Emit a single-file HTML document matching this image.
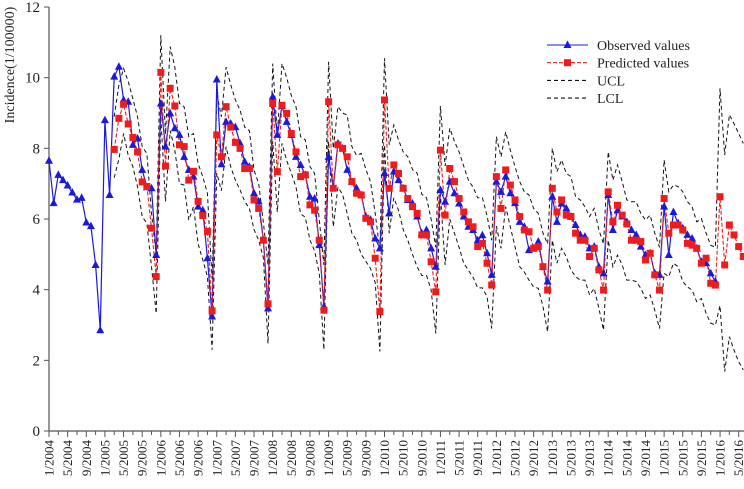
<!DOCTYPE html>
<html><head><meta charset="utf-8"><style>
body{margin:0;background:#fff}
svg{display:block;font-family:"Liberation Serif",serif}
</style></head><body>
<svg id="chart" width="744" height="489" viewBox="0 0 744 489"></svg>
<script>
const startYear = 2004;
const observed = [7.65,6.45,7.25,7.1,6.95,6.75,6.55,6.6,5.9,5.8,4.7,2.85,
8.8,6.68,10.03,10.31,9.37,9.32,8.1,8.28,7.39,6.9,6.87,4.98,
9.27,8.05,8.99,8.57,8.38,7.76,7.39,7.2,6.35,6.25,4.89,3.24,
9.95,7.55,8.75,8.7,8.6,8.14,7.62,7.48,6.73,6.5,5.4,3.47,
9.46,8.38,9.2,8.75,8.38,7.76,7.53,7.25,6.63,6.58,5.26,3.52,
7.76,6.9,8.14,8.0,7.39,7.06,6.87,6.68,6.07,5.98,5.45,5.17,
7.3,6.16,7.34,7.1,6.87,6.54,6.44,6.07,5.6,5.69,5.17,4.65,
6.82,6.49,7.06,6.73,6.44,6.07,5.78,5.69,5.4,5.54,5.03,4.42,
7.06,6.77,7.2,6.73,6.45,5.92,5.78,5.12,5.17,5.36,4.65,4.23,
6.63,5.92,6.44,6.3,6.07,5.83,5.55,5.5,5.17,5.22,4.65,4.46,
6.68,5.69,6.25,6.07,5.92,5.69,5.55,5.22,4.98,5.03,4.46,4.42,
6.35,4.98,6.2,5.88,5.74,5.55,5.45,5.17,4.79,4.75,4.46,4.23];
const predStart = 14;
const predicted = [7.97,8.85,9.25,8.69,8.31,7.9,7.05,6.92,5.74,4.37,
10.15,7.5,9.7,9.2,8.1,8.05,7.1,7.35,6.5,6.1,5.65,3.4,
8.38,7.76,9.18,8.6,8.17,8.0,7.43,7.43,6.54,6.3,5.4,3.6,
9.27,7.34,9.22,8.99,8.42,7.9,7.2,7.25,6.4,6.25,5.4,3.42,
9.32,6.87,8.1,8.0,7.76,7.06,6.73,6.68,6.02,5.92,4.89,3.38,
9.37,6.87,7.53,7.29,6.87,6.58,6.35,6.16,5.55,5.55,4.79,3.94,
7.95,6.11,7.43,7.06,6.58,6.2,5.92,5.78,5.22,5.31,4.75,4.13,
7.2,6.3,7.39,6.96,6.54,6.07,5.69,5.64,5.17,5.22,4.65,3.99,
6.87,6.2,6.54,6.11,6.07,5.6,5.4,5.4,4.94,5.17,4.56,3.99,
6.77,5.92,6.39,6.11,5.86,5.4,5.4,5.36,4.84,5.03,4.42,3.99,
6.58,5.6,5.83,5.83,5.69,5.31,5.26,5.17,4.75,4.89,4.18,4.13,
6.63,4.7,5.83,5.55,5.22,4.94];
const ucl = [8.9,9.8,10.26,9.9,9.4,8.9,8.05,7.85,6.16,5.0,
11.2,8.4,10.88,10.3,9.27,9.18,8.33,8.42,7.57,7.2,6.73,4.3,
9.55,8.9,10.3,9.8,9.37,9.08,8.6,8.5,7.39,7.0,5.9,4.7,
10.4,8.4,10.4,10.0,9.5,9.18,8.33,8.24,7.48,7.29,5.97,4.7,
10.45,8.0,9.18,9.0,8.94,8.05,7.8,7.86,7.4,7.06,6.16,5.1,
10.55,8.1,8.66,8.24,7.9,7.76,7.4,7.3,6.7,6.6,6.0,5.2,
9.2,7.5,8.57,8.2,7.9,7.5,7.1,6.9,6.6,6.6,6.1,5.4,
8.33,7.76,8.47,7.95,7.48,7.06,6.77,6.68,6.3,6.16,5.6,5.3,
8.0,7.34,7.67,7.29,7.2,6.63,6.54,6.35,6.07,6.3,5.69,5.3,
7.9,7.1,7.53,7.06,6.54,6.49,6.49,6.16,5.97,6.11,5.6,5.2,
7.67,6.77,6.96,6.92,6.77,6.49,6.35,5.92,6.01,5.6,5.26,5.2,
9.7,7.81,8.95,8.7,8.42,8.14];
const lcl = [7.17,7.7,8.42,7.8,7.48,6.92,6.07,5.88,4.65,3.33,
8.9,6.5,8.5,7.95,7.0,6.96,5.97,6.35,5.3,4.84,4.37,2.3,
7.3,6.8,8.05,7.48,7.1,6.82,6.5,6.3,5.7,5.4,4.9,2.48,
8.2,6.2,8.14,7.65,7.3,6.9,6.15,6.05,5.4,5.1,4.45,2.3,
8.2,5.78,6.9,6.7,6.15,5.6,5.4,5.0,4.8,4.6,4.2,2.25,
8.1,5.6,6.6,6.25,5.7,5.4,5.0,4.65,4.4,4.4,4.0,2.76,
6.7,4.7,6.0,5.6,5.2,4.75,4.55,4.35,4.05,4.05,3.8,2.9,
5.8,5.17,6.35,5.78,5.22,4.65,4.5,4.27,4.08,4.04,3.52,2.81,
5.4,4.75,5.17,4.93,4.56,4.37,4.27,4.27,3.85,4.04,3.47,2.86,
5.4,4.65,4.98,4.7,4.27,4.27,4.23,4.04,3.75,3.85,3.42,2.9,
4.46,4.37,4.75,4.65,4.23,4.08,3.99,3.66,3.75,3.33,3.05,3.0,
3.55,1.68,2.67,2.29,1.96,1.73];
const yTicks = [0,2,4,6,8,10,12];
const totalMonths = 150;

const NS="http://www.w3.org/2000/svg";
const svg=document.getElementById('chart');
const X0=49, MW=4.66, Y0=431, YU=35.33;
const xs=i=>X0+i*MW;
const ys=v=>Y0-v*YU;
function mk(tag,attrs,parent){const e=document.createElementNS(NS,tag);for(const k in attrs)e.setAttribute(k,attrs[k]);(parent||svg).appendChild(e);return e;}

const axes=mk('g',{});


const yl=mk('line',{x1:X0,y1:ys(12),x2:X0,y2:Y0,stroke:'#555','stroke-width':1.2},axes);


const xl=mk('line',{x1:X0,y1:Y0,x2:744,y2:Y0,stroke:'#555','stroke-width':1.2},axes);


yTicks.forEach(v=>{
  mk('line',{x1:X0-5,y1:ys(v),x2:X0,y2:ys(v),stroke:'#555'},axes);
  const t=mk('text',{x:X0-9,y:ys(v)+5,'text-anchor':'end','font-size':15,fill:'#222'},axes);
  t.textContent=v;
  
  
});
for(let i=0;i<totalMonths;i+=2){
  mk('line',{x1:xs(i),y1:Y0,x2:xs(i),y2:Y0+(i%4===0?6:4),stroke:'#555'},axes);
  if(i%4===0){
    const m=i%12+1, y=startYear+Math.floor(i/12);
    const t=mk('text',{x:0,y:0,'text-anchor':'end','font-size':13,fill:'#222',transform:`translate(${xs(i)+4.5},${Y0+9}) rotate(-90)`},axes);
    t.textContent=m+'/'+y;
    
    
  }
}
const yt=mk('text',{x:0,y:0,'text-anchor':'middle','font-size':14,fill:'#222',transform:'translate(14,65) rotate(-90)'});
yt.textContent='Incidence(1/100000)';



function pts(arr,off){return arr.map((v,i)=>xs(i+off).toFixed(1)+','+ys(v).toFixed(1)).join(' ');}
const uc=mk('polyline',{points:pts(ucl,predStart),fill:'none',stroke:'#111','stroke-width':1,'stroke-dasharray':'4,3'});


const lc=mk('polyline',{points:pts(lcl,predStart),fill:'none',stroke:'#111','stroke-width':1,'stroke-dasharray':'4,3'});


const ol=mk('polyline',{points:pts(observed,0),fill:'none',stroke:'#1a1adb','stroke-width':1.2});


const pl=mk('polyline',{points:pts(predicted,predStart),fill:'none',stroke:'#e8201c','stroke-width':1.1,'stroke-dasharray':'4,2'});


observed.forEach((v,i)=>{
  const x=xs(i),y=ys(v);
  const m=mk('polygon',{points:`${x},${y-4.5} ${x-4},${y+3} ${x+4},${y+3}`,fill:'#1a1adb'});
  
  
});
predicted.forEach((v,i)=>{
  const x=xs(i+predStart),y=ys(v);
  const m=mk('rect',{x:x-3.5,y:y-3.5,width:7,height:7,fill:'#ee1c1c'});
  
  
});

const lg=mk('g',{});


const items=[['Observed values','#1a1adb','none','tri'],['Predicted values','#e8201c','4,2','sq'],['UCL','#111','4,3',''],['LCL','#111','4,3','']];
items.forEach((it,k)=>{
  const y=45+k*17.7;
  const g=mk('g',{},lg);
  
  
  mk('line',{x1:547,y1:y,x2:588,y2:y,stroke:it[1],'stroke-width':1.1,'stroke-dasharray':it[2]},g);
  if(it[3]==='tri')mk('polygon',{points:`567.5,${y-4.5} 563.5,${y+3} 571.5,${y+3}`,fill:it[1]},g);
  if(it[3]==='sq')mk('rect',{x:564,y:y-3.5,width:7,height:7,fill:'#ee1c1c'},g);
  const t=mk('text',{x:597,y:y+5,'font-size':14,fill:'#222'},g);
  t.textContent=it[0];
});
</script>
</body></html>
